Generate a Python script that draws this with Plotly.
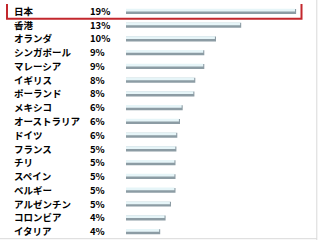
import plotly.graph_objects as go

countries = ["日本", "香港", "オランダ", "シンガポール", "マレーシア", "イギリス", "ポーランド",
             "メキシコ", "オーストラリア", "ドイツ", "フランス", "チリ", "スペイン", "ベルギー",
             "アルゼンチン", "コロンビア", "イタリア"]
values = [18.9, 12.8, 10.0, 8.7, 8.7, 7.7, 7.6, 6.3, 6.0, 5.7, 5.6, 5.5, 5.5, 5.5, 5.0, 4.4, 3.8]
pct_labels = ["19%", "13%", "10%", "9%", "9%", "8%", "8%", "6%", "6%", "6%", "5%", "5%", "5%",
              "5%", "5%", "4%", "4%"]

idx = list(range(len(countries)))
PX = 9.0  # px per unit
X0 = 126.0  # px of zero

fig = go.Figure()
fig.add_trace(go.Bar(y=idx, x=values, orientation="h", width=0.36, offset=-0.14,
                     marker=dict(color="#8c9ca4", line=dict(width=0)), hoverinfo="skip"))
fig.add_trace(go.Bar(y=idx, x=[v - 0.12 for v in values], orientation="h", width=0.2, offset=-0.16,
                     marker=dict(color="#e6f5f8", line=dict(width=0)), hoverinfo="skip"))

font = dict(family="Noto Sans CJK JP", size=9.5, color="#000000", weight=600)
ann = []
for i, (c, p) in enumerate(zip(countries, pct_labels)):
    ann.append(dict(x=(13 - X0) / PX, y=i, xref="x", yref="y", text=c, borderpad=0,
                    showarrow=False, xanchor="left", yanchor="middle", font=font))
    ann.append(dict(x=(89 - X0) / PX, y=i, xref="x", yref="y", text=p, borderpad=0,
                    showarrow=False, xanchor="left", yanchor="middle", font=font))

shapes = [
    dict(type="rect", xref="x", yref="y", x0=(7 - X0) / PX, x1=(301.5 - X0) / PX,
         y0=-0.57, y1=0.58, line=dict(color="#c3272d", width=2), fillcolor="rgba(0,0,0,0)"),
    dict(type="line", xref="paper", yref="paper", x0=0.99, x1=0.99, y0=-0.02, y1=1.02,
         line=dict(color="#d9d9d9", width=1)),
    dict(type="line", xref="paper", yref="paper", x0=0, x1=0.99, y0=-0.003, y1=-0.003,
         line=dict(color="#d9d9d9", width=1)),
]

fig.update_layout(
    width=320, height=240, margin=dict(l=0, r=0, t=4, b=2),
    paper_bgcolor="white", plot_bgcolor="white", showlegend=False, barmode="overlay",
    xaxis=dict(range=[-X0 / PX, (320 - X0) / PX], visible=False, fixedrange=True),
    yaxis=dict(range=[len(countries) - 0.5, -0.5], visible=False, fixedrange=True),
    annotations=ann, shapes=shapes,
)

fig.write_html("out.html")
